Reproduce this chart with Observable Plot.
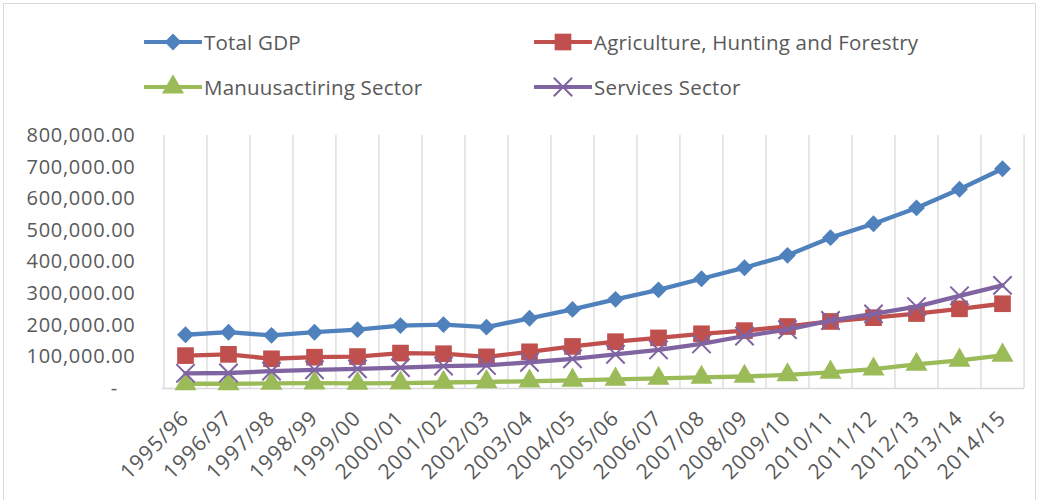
<!DOCTYPE html>
<html>
<head>
<meta charset="utf-8">
<script src="https://cdn.jsdelivr.net/npm/d3@7"></script>
<script src="https://cdn.jsdelivr.net/npm/@observablehq/plot@0.6"></script>
<style>
  html, body { margin: 0; padding: 0; background: #fff; }
  #wrap { position: relative; width: 1040px; height: 500px; overflow: hidden; font-family: "Open Sans", sans-serif; color: #595959; }
  #frame { position: absolute; left: 3px; top: 3px; width: 1033px; height: 520px; border: 1px solid #d9d9d9; box-sizing: border-box; }
  .item { position: absolute; display: flex; align-items: center; font-size: 20.5px; letter-spacing: 0.2px; color: #595959; white-space: nowrap; }
  .item svg { margin-right: 2px; }
  #plot { position: absolute; left: 0; top: 110px; }
</style>
</head>
<body>
<div id="wrap">
  <div id="frame"></div>
  <div id="legend"></div>
  <div id="plot"></div>
</div>
<script>
const years = ["1995/96","1996/97","1997/98","1998/99","1999/00","2000/01","2001/02","2002/03","2003/04","2004/05","2005/06","2006/07","2007/08","2008/09","2009/10","2010/11","2011/12","2012/13","2013/14","2014/15"];
const totalGDP = [170000,178000,168000,178000,186000,199000,202000,194000,222000,250000,282000,312000,347000,382000,421000,477000,521000,571000,630000,695000];
const agriculture = [104000,108000,94000,99000,101000,112000,110000,100000,116000,133000,148000,160000,173000,183000,196000,212000,224000,237000,252000,268000];
const manufacturing = [15000,15000,16000,17000,16000,17000,19000,21000,23000,26000,29000,32000,35000,38000,43000,51000,61000,76000,89000,105000];
const services = [48000,49000,55000,59000,62000,66000,71000,73000,83000,94000,108000,122000,141000,166000,186000,215000,236000,259000,293000,326000];
const seriesNames = ["Total GDP","Agriculture, Hunting and Forestry","Manuusactiring Sector","Services Sector"];
const seriesColors = ["#4f81bd","#c0504d","#9bbb59","#8064a2"];
const yTicks = [0,100000,200000,300000,400000,500000,600000,700000,800000];

const seriesValues = [totalGDP, agriculture, manufacturing, services];
const symbols = ["diamond2","square","triangle","times"];
const radii = [7.6, 9.4, 8.2, 8.4];

// legend
const legendPos = [[144, 42],[534, 42],[144, 87],[534, 87]];
const legend = document.getElementById("legend");
seriesNames.forEach((name, i) => {
  const div = document.createElement("div");
  div.className = "item";
  div.style.left = legendPos[i][0] + "px";
  div.style.top = (legendPos[i][1] - 15) + "px";
  div.style.height = "30px";
  const sw = d3.create("svg").attr("width", 58).attr("height", 30);
  sw.append("line").attr("x1", 1).attr("x2", 57).attr("y1", 15).attr("y2", 15)
    .attr("stroke", seriesColors[i]).attr("stroke-width", 4).attr("stroke-linecap", "round");
  const sym = d3.symbol().type([d3.symbolDiamond2, d3.symbolSquare, d3.symbolTriangle, d3.symbolTimes][i])
    .size(Math.PI * radii[i] * radii[i]);
  const p = sw.append("path").attr("d", sym()).attr("transform", "translate(29,15)");
  if (i === 3) p.attr("fill", "none").attr("stroke", seriesColors[i]).attr("stroke-width", 2);
  else p.attr("fill", seriesColors[i]);
  div.appendChild(sw.node());
  const span = document.createElement("span");
  span.textContent = name;
  div.appendChild(span);
  legend.appendChild(div);
});

const data = [];
seriesNames.forEach((s, i) => years.forEach((y, j) => data.push({series: s, year: y, value: seriesValues[i][j]})));

const width = 1040, marginLeft = 162, marginRight = 16;
const step = (width - marginLeft - marginRight) / years.length;

const marks = [
  Plot.ruleX(years, {x: d => d, dx: -step / 2, stroke: "#d9d9d9", strokeWidth: 1.3}),
  Plot.ruleX([years[years.length - 1]], {x: d => d, dx: step / 2, stroke: "#d9d9d9", strokeWidth: 1.3}),
  Plot.ruleY([0], {stroke: "#d9d9d9", strokeWidth: 1.5})
];
seriesNames.forEach((s, i) => {
  const sd = data.filter(d => d.series === s);
  marks.push(Plot.line(sd, {x: "year", y: "value", stroke: seriesColors[i], strokeWidth: 4.3, strokeLinejoin: "round", strokeLinecap: "round"}));
  if (symbols[i] === "times") {
    marks.push(Plot.dot(sd, {x: "year", y: "value", symbol: "times", r: radii[i], stroke: seriesColors[i], strokeWidth: 2, fill: "none"}));
  } else {
    marks.push(Plot.dot(sd, {x: "year", y: "value", symbol: symbols[i], r: radii[i], fill: seriesColors[i], stroke: "none"}));
  }
});

const chart = Plot.plot({
  width,
  height: 390,
  marginTop: 25,
  marginBottom: 112,
  marginLeft,
  marginRight,
  style: {fontFamily: "Open Sans, sans-serif", fontSize: "20px", color: "#595959", background: "transparent", overflow: "visible"},
  x: {type: "point", domain: years, padding: 0.5, align: 0.5, tickRotate: -45, tickSize: 0, tickPadding: 26, label: null},
  y: {domain: [0, 800000], ticks: yTicks, tickSize: 0, tickPadding: 27, label: null,
      tickFormat: d => d === 0 ? "-\u00a0\u00a0\u00a0" : d3.format(",.2f")(d)},
  marks
});
d3.select(chart).selectAll('g[aria-label^="x-axis"] text').style("font-size", "21px").style("letter-spacing", "1px");
d3.select(chart).selectAll('g[aria-label^="y-axis"] text').style("letter-spacing", "0.7px");
document.getElementById("plot").appendChild(chart);
</script>
</body>
</html>
